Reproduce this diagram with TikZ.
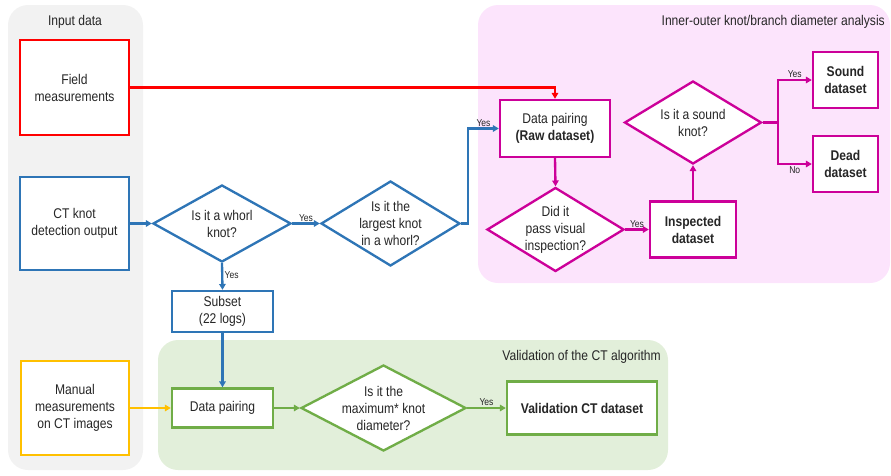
\documentclass[tikz,border=0pt]{standalone}
\usepackage{fontspec}
\setmainfont[FakeStretch=0.86]{Liberation Sans}
\usepackage{xcolor}
\definecolor{ink}{HTML}{262626}
\definecolor{fieldred}{HTML}{FF0000}
\definecolor{ctblue}{HTML}{2E75B6}
\definecolor{manualgold}{HTML}{FFC000}
\definecolor{valgreen}{HTML}{70AD47}
\definecolor{innermag}{HTML}{CC0099}
\definecolor{graybg}{HTML}{F2F2F2}
\definecolor{pinkbg}{HTML}{FCE4FC}
\definecolor{greenbg}{HTML}{E2EFDA}
\usetikzlibrary{shapes.geometric,arrows.meta}

\begin{document}
\begin{tikzpicture}[
  font=\fontsize{12}{14.5}\selectfont, text=ink,
  panel/.style={rounded corners=0.6cm, draw=none},
  panelhead/.style={font=\fontsize{12}{14}\selectfont, inner sep=0pt},
  box/.style={draw=#1, line width=2pt, fill=white, align=center, inner sep=2pt},
  decision/.style={diamond, draw=#1, line width=2pt, fill=white, align=center,
                   inner sep=-4pt, aspect=1.7},
  link/.style={draw=#1, line width=2pt, -{Triangle[length=5pt,width=5.5pt]}},
  yes/.style={font=\fontsize{8.5}{10}\selectfont, inner sep=1pt}
]
  \useasboundingbox (0,0) rectangle (26.73,-14.25);

  % panels
  \fill[panel, graybg]  (0.24,-0.15) rectangle (4.29,-14.1);
  \fill[panel, pinkbg]  (14.34,-0.15) rectangle (26.7,-8.49);
  \fill[panel, greenbg] (4.74,-10.2) rectangle (20.04,-14.1);
  \node[panelhead] (inhead) at (2.25,-0.66) {Input data};
  \node[panelhead, anchor=east] (iohead) at (26.55,-0.66) {Inner-outer knot/branch diameter analysis};
  \node[panelhead, anchor=east] (valhead) at (19.83,-10.71) {Validation of the CT algorithm};

  % input data
  \node[box=fieldred, minimum width=3.27cm, minimum height=2.85cm] (field) at (2.235,-2.625)
        {Field\\measurements};
  \node[box=ctblue, minimum width=3.27cm, minimum height=2.79cm] (ctout) at (2.235,-6.705)
        {CT knot\\detection output};
  \node[box=manualgold, minimum width=3.24cm, minimum height=2.82cm] (manual) at (2.25,-12.24)
        {Manual\\measurements\\on CT images};

  % CT branch
  \node[decision=ctblue, minimum width=4.14cm, minimum height=2.31cm] (whorl) at (6.66,-6.705)
        {Is it a whorl\\knot?};
  \node[decision=ctblue, minimum width=4.17cm, minimum height=2.55cm] (largest) at (11.715,-6.705)
        {Is it the\\largest knot\\in a whorl?};
  \node[box=ctblue, minimum width=3.03cm, minimum height=1.23cm] (subset) at (6.675,-9.345)
        {Subset\\(22 logs)};

  % validation
  \node[box=valgreen, minimum width=3.03cm, minimum height=1.17cm] (pair) at (6.675,-12.24)
        {Data pairing};
  \node[decision=valgreen, minimum width=4.95cm, minimum height=2.58cm] (maxdia) at (11.505,-12.24)
        {Is it the\\maximum* knot\\diameter?};
  \node[box=valgreen, minimum width=4.5cm, minimum height=1.59cm] (valid) at (17.46,-12.24)
        {\textbf{Validation CT dataset}};

  % inner-outer analysis
  \node[box=innermag, minimum width=3.3cm, minimum height=1.71cm] (raw) at (16.65,-3.855)
        {Data pairing\\\textbf{(Raw dataset)}};
  \node[decision=innermag, minimum width=4.11cm, minimum height=2.52cm] (visual) at (16.665,-6.885)
        {Did it\\pass visual\\inspection?};
  \node[box=innermag, minimum width=2.58cm, minimum height=1.68cm] (inspected) at (20.79,-6.885)
        {\textbf{Inspected}\\\textbf{dataset}};
  \node[decision=innermag, minimum width=4.11cm, minimum height=2.49cm] (soundq) at (20.79,-3.675)
        {Is it a sound\\knot?};
  \node[box=innermag, minimum width=1.95cm, minimum height=1.68cm] (sound) at (25.365,-2.4)
        {\textbf{Sound}\\\textbf{dataset}};
  \node[box=innermag, minimum width=1.95cm, minimum height=1.68cm] (dead) at (25.365,-4.92)
        {\textbf{Dead}\\\textbf{dataset}};

  % connectors
  \draw[link=fieldred] (field.east) -| (raw.north);
  \draw[link=ctblue] (ctout.east) -- (whorl.west);
  \draw[link=ctblue] (whorl.east) -- node[yes, above] {Yes} (largest.west);
  \draw[link=ctblue] (largest.east) -- ++(0.21,0) |- node[yes, above, pos=0.75] {Yes} (raw.west);
  \draw[link=ctblue] (whorl.south) -- node[yes, right, pos=0.45] {Yes} (subset.north);
  \draw[link=ctblue] (subset.south) -- (pair.north);
  \draw[link=manualgold] (manual.east) -- (pair.west);
  \draw[link=valgreen] (pair.east) -- (maxdia.west);
  \draw[link=valgreen] (maxdia.east) -- node[yes, above] {Yes} (valid.west);
  \draw[link=innermag] (raw.south) -- (visual.north);
  \draw[link=innermag] (visual.east) -- node[yes, above] {Yes} (inspected.west);
  \draw[link=innermag] (inspected.north) -- (soundq.south);
  \draw[link=innermag] (soundq.east) -- ++(0.45,0) |- node[yes, above, pos=0.75] {Yes} (sound.west);
  \draw[link=innermag] (soundq.east) -- ++(0.45,0) |- node[yes, below, pos=0.75] {No} (dead.west);
\end{tikzpicture}
\end{document}
